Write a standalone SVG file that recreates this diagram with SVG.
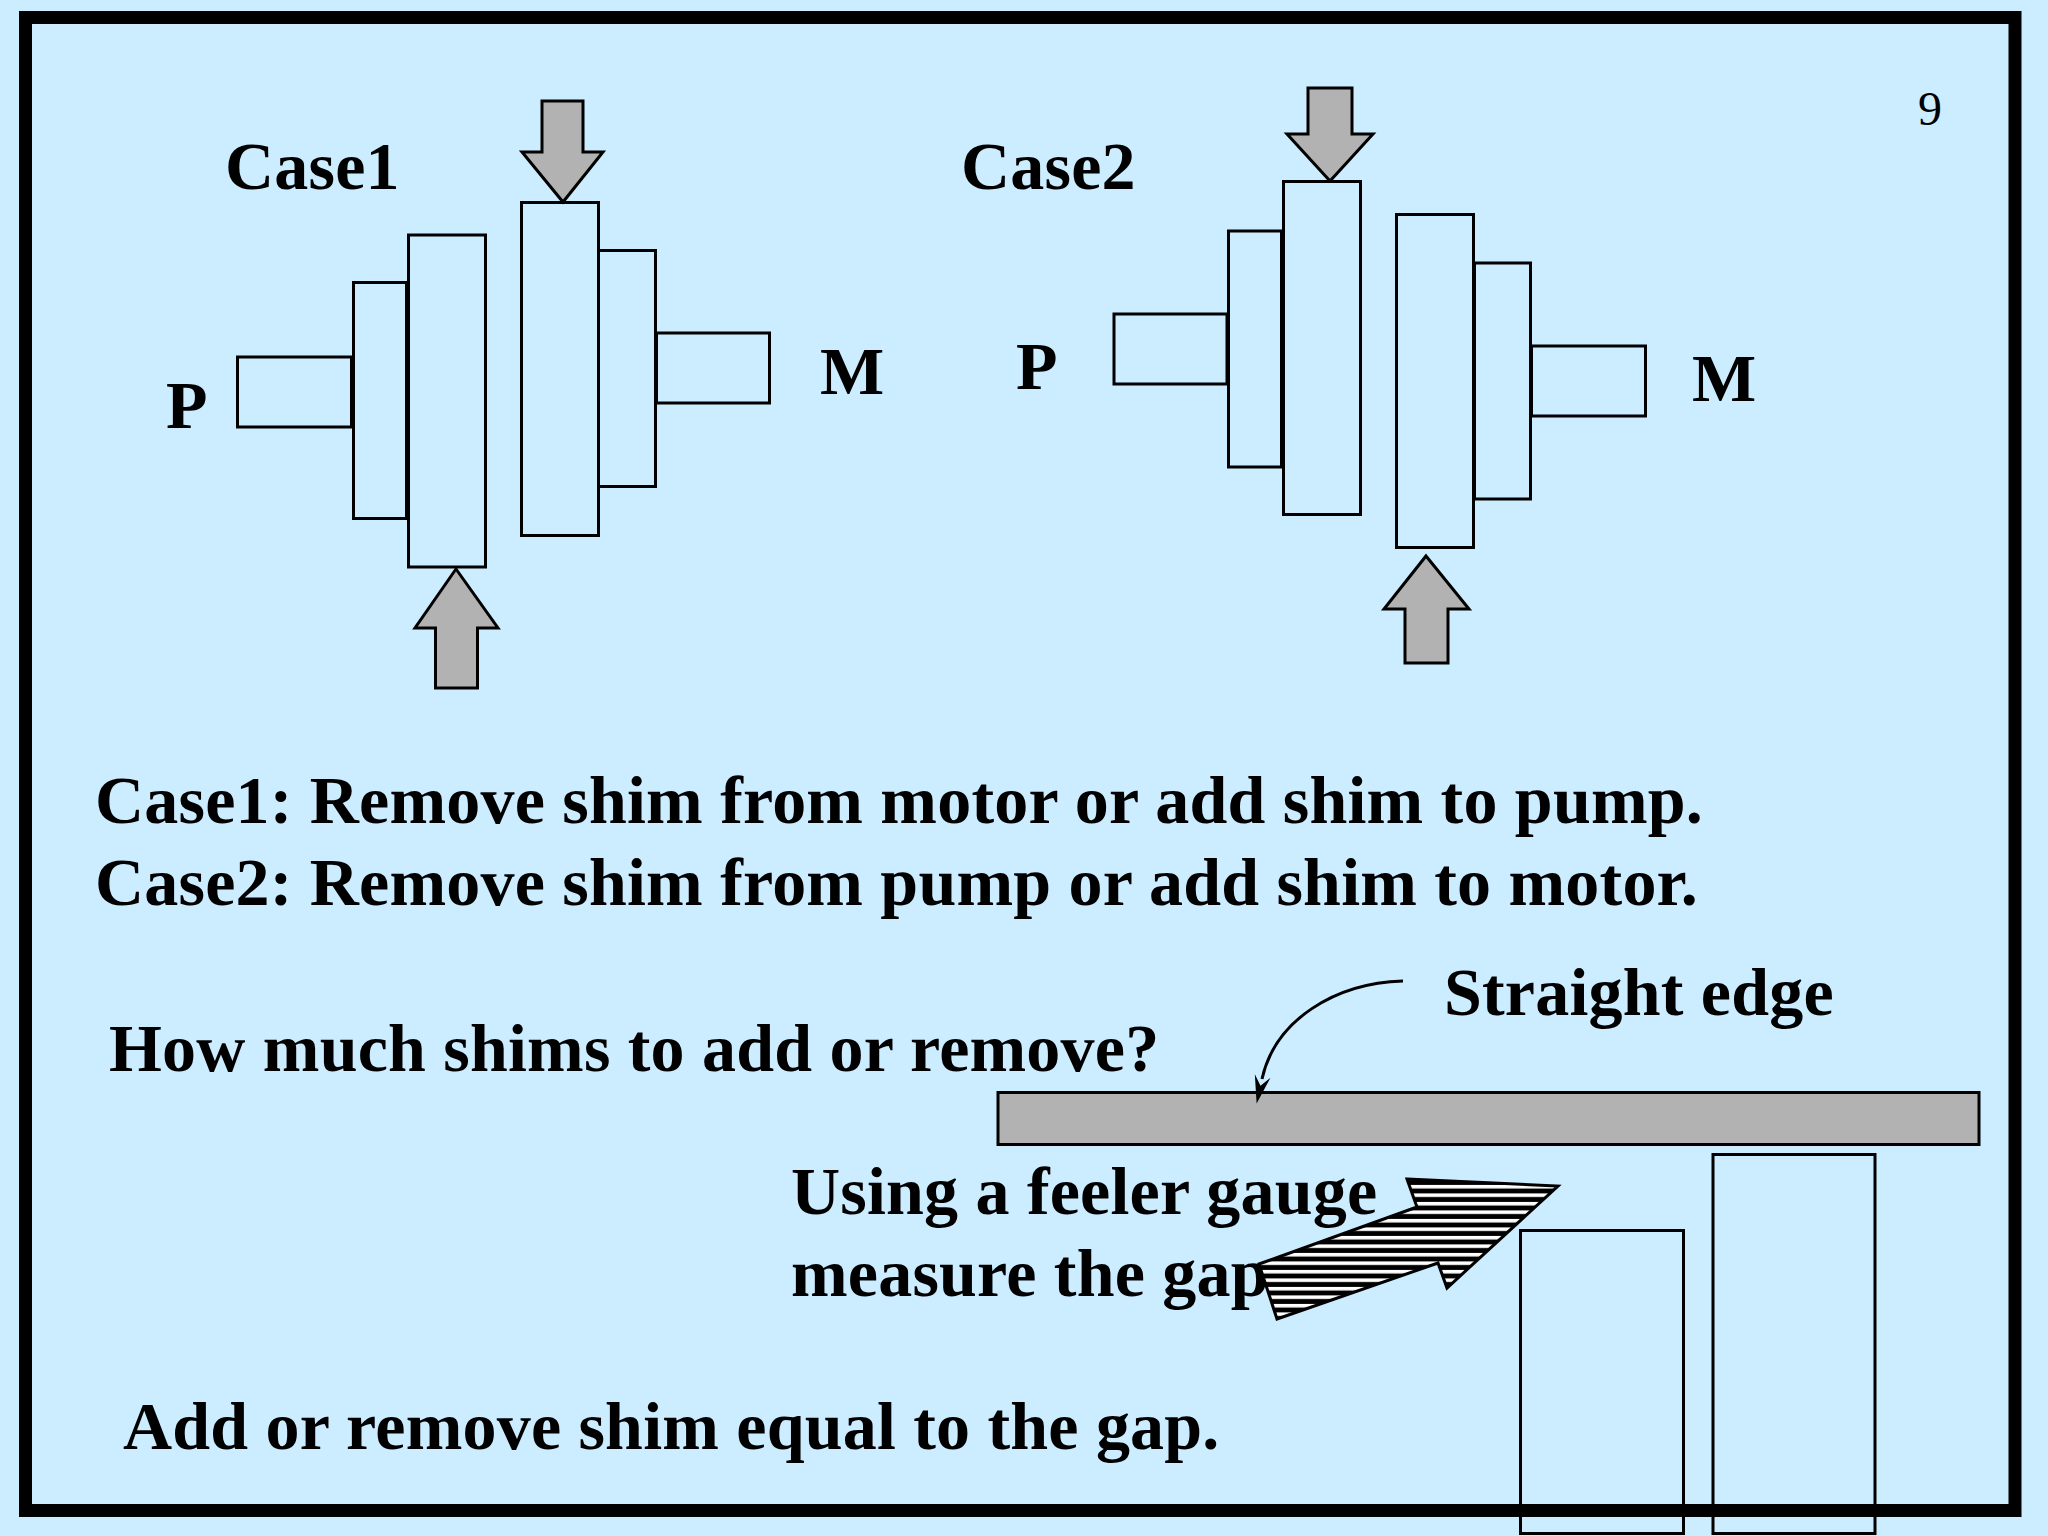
<svg xmlns="http://www.w3.org/2000/svg" width="2048" height="1536" viewBox="0 0 2048 1536">
<defs>
<pattern id="hatch" patternUnits="userSpaceOnUse" x="0" y="1184.9" width="20" height="8.5"><rect width="20" height="8.5" fill="#000"/><rect width="20" height="3.6" fill="#fff"/></pattern>
<marker id="barb" markerUnits="userSpaceOnUse" viewBox="0 0 30 24" refX="3" refY="12" markerWidth="30" markerHeight="24" orient="auto"><path d="M0 4 L28 12 L0 20 L10 12 Z" fill="#000"/></marker>
</defs>
<style>
.part{fill:#ccecff;stroke:#000;stroke-width:3}
.gray{fill:#b2b2b2;stroke:#000;stroke-width:3;stroke-linejoin:miter}
text{font-family:"Liberation Serif","Times New Roman",serif;font-weight:700;fill:#000}
.l{font-size:68px;letter-spacing:0.2px}
</style>
<rect width="2048" height="1536" fill="#ccecff"/>
<text x="1918" y="125" style="font-size:48px;font-weight:400">9</text>
<g id="case1">
<text class="l" x="225" y="189">Case1</text>
<text class="l" x="166" y="428">P</text>
<text class="l" x="820" y="394">M</text>
<rect class="part" x="237.500" y="357" width="114" height="70"/>
<rect class="part" x="353.500" y="282.500" width="53" height="236"/>
<rect class="part" x="408.500" y="235" width="77" height="332"/>
<rect class="part" x="521.500" y="202.500" width="77" height="333"/>
<rect class="part" x="598.500" y="250.500" width="57" height="236"/>
<rect class="part" x="656.500" y="333" width="113" height="70"/>
<polygon class="gray" points="542,101 583,101 583,152 603,152 563,202 522,152 542,152"/>
<polygon class="gray" points="456,569 498,628 477.500,628 477.500,688 435.500,688 435.500,628 415,628"/>
</g>
<g id="case2">
<text class="l" x="961" y="189">Case2</text>
<text class="l" x="1016" y="389">P</text>
<text class="l" x="1692" y="401">M</text>
<rect class="part" x="1114" y="314" width="113" height="70"/>
<rect class="part" x="1228.500" y="231" width="53" height="236"/>
<rect class="part" x="1283.500" y="181.500" width="77" height="333"/>
<rect class="part" x="1396.500" y="214.500" width="77" height="333"/>
<rect class="part" x="1474.500" y="263" width="56" height="236"/>
<rect class="part" x="1531.500" y="346" width="114" height="70"/>
<polygon class="gray" points="1308,88 1352,88 1352,134 1373,134 1330,181 1287,134 1308,134"/>
<polygon class="gray" points="1426,556 1469,609 1448,609 1448,663 1405,663 1405,609 1384,609"/>
</g>
<text class="l" x="95" y="823">Case1: Remove shim from motor or add shim to pump.</text>
<text class="l" x="95" y="905">Case2: Remove shim from pump or add shim to motor.</text>
<text class="l" x="109" y="1071">How much shims to add or remove?</text>
<text class="l" x="1444" y="1015">Straight edge</text>
<text class="l" x="791" y="1214">Using a feeler gauge</text>
<text class="l" x="791" y="1296">measure the gap</text>
<text class="l" x="123" y="1449">Add or remove shim equal to the gap.</text>
<g id="gauge">
<rect class="gray" x="998" y="1092.500" width="981" height="52"/>
<rect class="part" x="1520.500" y="1230.500" width="163" height="303"/>
<rect class="part" x="1713" y="1154.500" width="162" height="379"/>
<polygon points="1407,1179 1558,1186 1447,1288 1438,1263 1277,1319 1259,1264 1417,1207" fill="url(#hatch)" stroke="#000" stroke-width="3"/>
</g>
<rect id="frame" x="25.500" y="17.500" width="1989.500" height="1493" fill="none" stroke="#000" stroke-width="13"/>
<g id="connectors">
<path d="M1403 981 C1335 983 1275 1020 1262 1079" fill="none" stroke="#000" stroke-width="3" marker-end="url(#barb)"/>
</g>
</svg>
